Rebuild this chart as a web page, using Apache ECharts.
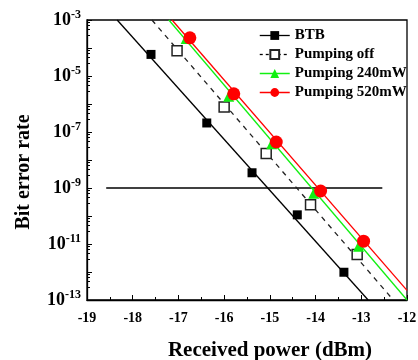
<!DOCTYPE html>
<html><head><meta charset="utf-8">
<script src="https://cdn.jsdelivr.net/npm/echarts@6/dist/echarts.min.js"></script>
<style>html,body{margin:0;padding:0;background:#fff}#c{width:418px;height:360px}</style>
</head><body><div id="c"></div>
<script>
// Measured points (Received power dBm, BER)
const btbX = [-17.60, -16.38, -15.39, -14.40, -13.38];
const btbY = [5.9e-5, 2.1e-7, 3.5e-9, 1.1e-10, 9.8e-13];
const offX = [-17.03, -16.00, -15.08, -14.11, -13.09];
const offY = [7.9e-5, 7.8e-7, 1.7e-8, 2.5e-10, 4.2e-12];
const p240X = [-16.83, -15.90, -14.96, -14.04, -13.06];
const p240Y = [2.2e-4, 1.9e-6, 3.8e-8, 6.5e-10, 8.3e-12];
const p520X = [-16.75, -15.79, -14.86, -13.89, -12.95];
const p520Y = [2.3e-4, 2.3e-6, 4.4e-8, 7.8e-10, 1.26e-11];
// Fitted line end points
const btbFitX = [-18.34, -12.85];
const btbFitY = [1e-3, 1e-13];
const offFitX = [-17.58, -12.30];
const offFitY = [1e-3, 1e-13];
const p240FitX = [-17.21, -12.0];
const p240FitY = [1e-3, 1e-13];
const p520FitX = [-17.14, -12.0];
const p520FitY = [1e-3, 2.2e-13];
// Threshold line
const thrX = [-18.58, -12.54];
const thrY = [1e-9, 1e-9];
// Axis
const xTicks = [-19, -18, -17, -16, -15, -14, -13, -12];
const names = ['BTB', 'Pumping off', 'Pumping 240mW', 'Pumping 520mW'];

const zip = (a, b) => a.map((v, i) => [v, b[i]]);
const FONT = '"Liberation Serif", "Times New Roman", serif';
const GREEN = '#11f011', RED = '#ff0000', BLACK = '#000';

const chart = echarts.init(document.getElementById('c'));
function fit(xs, ys, color, type) {
  return { type: 'line', data: zip(xs, ys), symbol: 'none', silent: true, z: 2,
    lineStyle: { color: color, width: 1.3, type: type || 'solid' } };
}
function pts(name, xs, ys, symbol, size, itemStyle) {
  return { name: name, type: 'line', data: zip(xs, ys), symbol: symbol, symbolSize: size, z: 5,
    showSymbol: true, itemStyle: itemStyle, lineStyle: { opacity: 0, width: 0 } };
}
chart.setOption({
  animation: false,
  grid: { left: 87, right: 11, top: 20, bottom: 60, containLabel: false, outerBoundsMode: 'none',
    show: true, borderColor: BLACK, borderWidth: 1.3 },
  legend: {
    top: 23, left: 254, orient: 'vertical', itemWidth: 30, itemHeight: 11, itemGap: 4,
    textStyle: { fontFamily: FONT, fontWeight: 'bold', fontSize: 15, color: BLACK },
    data: [
      { name: names[0], lineStyle: { color: BLACK, width: 1.3, opacity: 1, type: 'solid' } },
      { name: names[1], lineStyle: { color: BLACK, width: 1.3, opacity: 1, type: [3, 3] } },
      { name: names[2], lineStyle: { color: GREEN, width: 1.5, opacity: 1, type: 'solid' } },
      { name: names[3], lineStyle: { color: RED, width: 1.5, opacity: 1, type: 'solid' } }
    ]
  },
  xAxis: {
    type: 'value', min: xTicks[0], max: xTicks[xTicks.length - 1], interval: 1,
    name: 'Received power (dBm)', nameLocation: 'middle', nameGap: 40,
    nameTextStyle: { fontFamily: FONT, fontWeight: 'bold', fontSize: 21, color: BLACK, padding: [0, 0, 0, 46] },
    axisLine: { lineStyle: { color: BLACK, width: 1.3 } },
    axisTick: { inside: true, length: 5, lineStyle: { color: BLACK } },
    minorTick: { show: true, splitNumber: 2, length: 3, lineStyle: { color: BLACK } },
    splitLine: { show: false },
    axisLabel: { fontFamily: FONT, fontWeight: 'bold', fontSize: 14, color: BLACK, margin: 11 }
  },
  yAxis: {
    type: 'log', logBase: 10, min: 1e-13, max: 1e-3, interval: 1, splitNumber: 10,
    name: 'Bit error rate', nameLocation: 'middle', nameGap: 53,
    nameTextStyle: { fontFamily: FONT, fontWeight: 'bold', fontSize: 20, color: BLACK, padding: [0, 24, 0, 0] },
    axisLine: { lineStyle: { color: BLACK, width: 1.3 } },
    axisTick: { inside: true, length: 5, lineStyle: { color: BLACK } },
    minorTick: { show: true, splitNumber: 5, length: 3, lineStyle: { color: BLACK } },
    splitLine: { show: false },
    axisLabel: {
      margin: 6,
      formatter: function (v) {
        const e = Math.round(Math.log10(v));
        return (e % 2 !== 0) ? '{b|10}{s|' + e + '}' : '';
      },
      rich: {
        b: { fontFamily: FONT, fontWeight: 'bold', fontSize: 18, color: BLACK, lineHeight: 20 },
        s: { fontFamily: FONT, fontWeight: 'bold', fontSize: 12, color: BLACK, lineHeight: 20, padding: [0, 0, 10, 0] }
      }
    }
  },
  series: [
    fit(thrX, thrY, BLACK),
    fit(btbFitX, btbFitY, BLACK),
    fit(offFitX, offFitY, '#222', [5, 5]),
    fit(p240FitX, p240FitY, GREEN),
    fit(p520FitX, p520FitY, RED),
    pts(names[0], btbX, btbY, 'rect', 9, { color: BLACK }),
    pts(names[1], offX, offY, 'rect', 10, { color: '#fff', borderColor: '#222', borderWidth: 1.5 }),
    pts(names[2], p240X, p240Y, 'triangle', 11, { color: GREEN }),
    pts(names[3], p520X, p520Y, 'circle', 13, { color: RED })
  ]
});
</script></body></html>
